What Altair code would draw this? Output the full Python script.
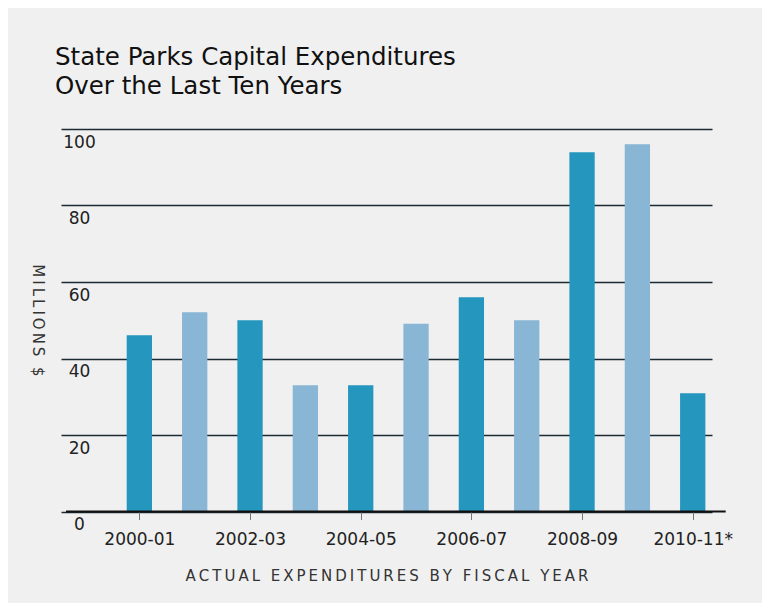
import json
import altair as alt
import pandas as pd

# ---- data ----
years = ["2000-01", "2001-02", "2002-03", "2003-04", "2004-05", "2005-06",
         "2006-07", "2007-08", "2008-09", "2009-10", "2010-11*"]
values = [46.1, 52.1, 50.0, 33.0, 33.0, 49.1, 56.0, 50.0, 93.9, 96.0, 30.9]
y_ticks = [0, 20, 40, 60, 80, 100]
x_label_idx = [0, 2, 4, 6, 8, 10]

title_lines = ["State Parks Capital Expenditures", "Over the Last Ten Years"]
x_title = "ACTUAL EXPENDITURES BY FISCAL YEAR"
y_title = "MILLIONS $"

# x extent (in bar-index units) of the plot and of the longer zero baseline
X_MIN, X_MAX = -1.3256, 10.258
BASE_END = 10.596

DARK = "#2596be"
LIGHT = "#88b6d4"
GRID = "#1c2a33"
BG = "#f0f0f0"


def spaced(s):
    return "\u2009".join(s)


df = pd.DataFrame({"year": years, "value": values, "idx": list(range(len(years)))})

label_expr = f"{json.dumps(years)}[datum.value]"

bars = (
    alt.Chart(df)
    .transform_calculate(shade="datum.idx % 2")
    .mark_bar(size=25.3)
    .encode(
        x=alt.X(
            "idx:Q",
            scale=alt.Scale(domain=[X_MIN, X_MAX], nice=False, zero=False),
            axis=alt.Axis(
                values=x_label_idx,
                labelExpr=label_expr,
                grid=False,
                domain=False,
                ticks=True,
                tickSize=8,
                tickColor="#777777",
                tickWidth=1,
                labelPadding=12,
                labelFlush=False,
                labelFont="DejaVu Sans",
                labelFontSize=17,
                labelColor="#222222",
                title=spaced(x_title),
                titleFont="DejaVu Sans",
                titleFontSize=15,
                titleFontWeight="normal",
                titleColor="#333333",
                titlePadding=21,
            ),
        ),
        y=alt.Y(
            "value:Q",
            scale=alt.Scale(domain=[0, 100], nice=False),
            axis=alt.Axis(
                values=y_ticks,
                grid=True,
                gridColor=GRID,
                gridWidth=1.4,
                domain=False,
                ticks=False,
                tickSize=0,
                labelAlign="center",
                labelBaseline="middle",
                labelPadding=-18,
                labelOffset=13,
                labelFlush=False,
                labelFont="DejaVu Sans",
                labelFontSize=17,
                labelColor="#222222",
                title=spaced(y_title),
                titleAngle=90,
                titleX=-24,
                titleY=191,
                titleAlign="center",
                titleBaseline="middle",
                titleFont="DejaVu Sans",
                titleFontSize=15,
                titleFontWeight="normal",
                titleColor="#333333",
            ),
        ),
        color=alt.Color(
            "shade:N",
            scale=alt.Scale(domain=[0, 1], range=[DARK, LIGHT]),
            legend=None,
        ),
    )
)

baseline = (
    alt.Chart(pd.DataFrame({"k": [0]}))
    .mark_rule(color="#111111", strokeWidth=2)
    .encode(
        x=alt.X(datum=X_MIN),
        x2=alt.X2(datum=BASE_END),
        y=alt.Y(datum=0),
    )
)

chart = (
    alt.layer(bars, baseline)
    .properties(
        width=651,
        height=382.5,
        autosize=alt.AutoSizeParams(type="none"),
        padding={"left": 53, "top": 121, "right": 50, "bottom": 92},
        background=BG,
        title=alt.Title(
            title_lines,
            anchor="start",
            frame="group",
            dx=-6,
            offset=6,
            baseline="bottom",
            font="DejaVu Sans",
            fontSize=24.5,
            fontWeight="normal",
            color="#111111",
            lineHeight=29,
        ),
    )
    .configure_view(stroke=None)
)

chart.save("out.html", embed_options={"renderer": "svg", "actions": False})
